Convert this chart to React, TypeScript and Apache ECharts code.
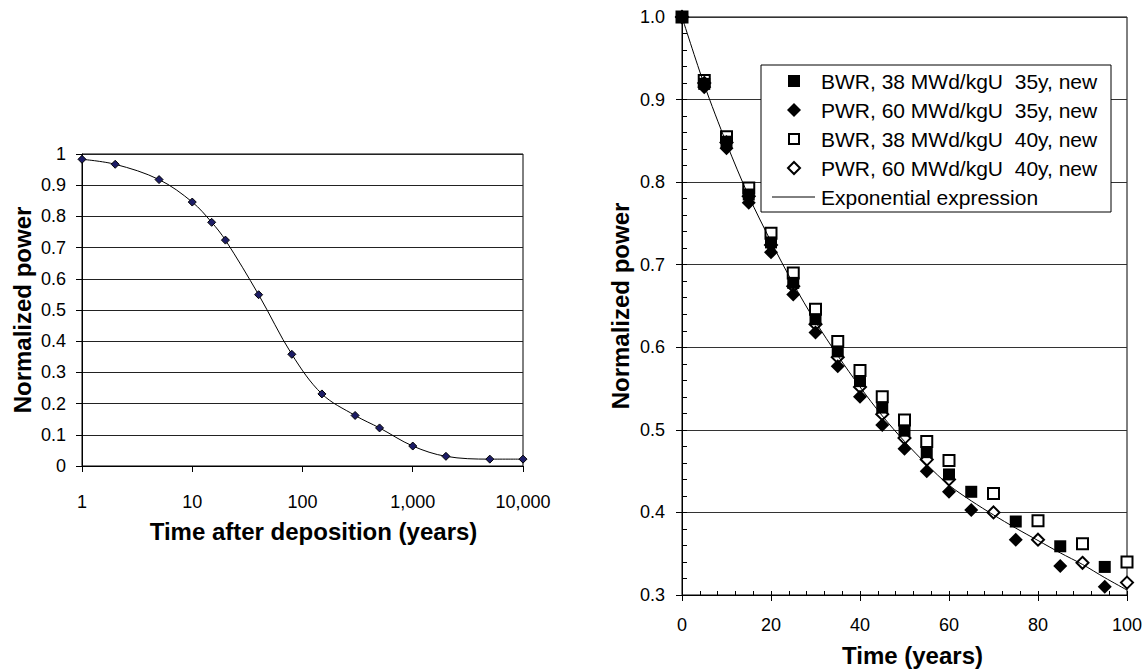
import React, { useEffect, useRef } from "react";
import * as echarts from "echarts";

// Left panel: decay heat vs. time after deposition (log time axis)
const decayYears = [1, 2, 5, 10, 15, 20, 40, 80, 150, 300, 500, 1000, 2000, 5000, 10000];
const decayPower = [0.983, 0.967, 0.918, 0.846, 0.781, 0.724, 0.549, 0.358, 0.231, 0.162, 0.122, 0.064, 0.031, 0.022, 0.022];

// Right panel: normalized power of spent fuel over the first 100 years
const years35 = [0, 5, 10, 15, 20, 25, 30, 35, 40, 45, 50, 55, 60, 65, 75, 85, 95];
const bwr35 = [1.0, 0.919, 0.849, 0.785, 0.727, 0.678, 0.634, 0.595, 0.559, 0.527, 0.499, 0.473, 0.446, 0.425, 0.389, 0.359, 0.334];
const pwr35 = [1.0, 0.915, 0.841, 0.775, 0.715, 0.664, 0.618, 0.577, 0.54, 0.506, 0.477, 0.45, 0.425, 0.403, 0.367, 0.335, 0.31];

const years40 = [0, 5, 10, 15, 20, 25, 30, 35, 40, 45, 50, 55, 60, 70, 80, 90, 100];
const bwr40 = [1.0, 0.923, 0.855, 0.793, 0.738, 0.69, 0.646, 0.607, 0.572, 0.54, 0.512, 0.486, 0.463, 0.423, 0.39, 0.362, 0.34];
const pwr40 = [1.0, 0.92, 0.848, 0.783, 0.724, 0.674, 0.628, 0.588, 0.552, 0.519, 0.49, 0.464, 0.44, 0.4, 0.367, 0.339, 0.315];

const fitYears = [0, 5, 10, 15, 20, 25, 30, 35, 40, 45, 50, 55, 60, 65, 70, 75, 80, 85, 90, 95, 100];
const fitPower = [1.0, 0.918, 0.847, 0.783, 0.728, 0.677, 0.631, 0.59, 0.552, 0.517, 0.486, 0.458, 0.433, 0.414, 0.397, 0.381, 0.366, 0.351, 0.337, 0.321, 0.306];

const legendLabels = [
  "BWR, 38 MWd/kgU \u00a035y, new",
  "PWR, 60 MWd/kgU \u00a035y, new",
  "BWR, 38 MWd/kgU \u00a040y, new",
  "PWR, 60 MWd/kgU \u00a040y, new",
  "Exponential expression",
];

const FONT = 'Arial, "Liberation Sans", sans-serif';

const zip = (xs: number[], ys: number[]) => xs.map((x, i) => [x, ys[i]]);

// Boxed legend drawn inside the right-hand plot
function legendGraphic() {
  const left = 761;
  const top = 65;
  const rowY = [81, 110, 139, 168, 197];
  const sx = 794;
  const tx = 821;
  const els: any[] = [
    {
      type: "rect",
      shape: { x: left, y: top, width: 350, height: 147 },
      style: { fill: "#fff", stroke: "#000", lineWidth: 1 },
      z: 10,
    },
  ];
  els.push({ type: "rect", shape: { x: sx - 6, y: rowY[0] - 6, width: 12, height: 12 }, style: { fill: "#000" }, z: 11 });
  els.push({
    type: "polygon",
    shape: { points: [[sx, rowY[1] - 7], [sx + 7, rowY[1]], [sx, rowY[1] + 7], [sx - 7, rowY[1]]] },
    style: { fill: "#000" },
    z: 11,
  });
  els.push({
    type: "rect",
    shape: { x: sx - 5, y: rowY[2] - 5, width: 10, height: 10 },
    style: { fill: "#fff", stroke: "#000", lineWidth: 2 },
    z: 11,
  });
  els.push({
    type: "polygon",
    shape: { points: [[sx, rowY[3] - 6], [sx + 6, rowY[3]], [sx, rowY[3] + 6], [sx - 6, rowY[3]]] },
    style: { fill: "#fff", stroke: "#000", lineWidth: 2 },
    z: 11,
  });
  els.push({
    type: "line",
    shape: { x1: 772, y1: rowY[4], x2: 815, y2: rowY[4] },
    style: { stroke: "#000", lineWidth: 1 },
    z: 11,
  });
  legendLabels.forEach((t, i) => {
    els.push({
      type: "text",
      x: tx,
      y: rowY[i],
      style: { text: t, font: `21px ${FONT}`, fill: "#000", verticalAlign: "middle", align: "left" },
      z: 11,
    });
  });
  return els;
}

export default function App() {
  const ref = useRef<HTMLDivElement>(null);

  useEffect(() => {
    if (!ref.current) return;
    const chart = echarts.init(ref.current, null, { renderer: "svg" });

    const labelStyle = { color: "#000", fontSize: 18, fontFamily: FONT };
    const nameStyle = { color: "#000", fontSize: 24, fontWeight: "bold" as const, fontFamily: FONT };

    chart.setOption({
      animation: false,
      backgroundColor: "#fff",
      grid: [
        { left: 82, top: 154, width: 441, height: 312, show: true, borderColor: "#000", borderWidth: 1 },
        { left: 682, top: 17, width: 445, height: 579, show: true, borderColor: "#000", borderWidth: 1 },
      ],
      xAxis: [
        {
          gridIndex: 0,
          type: "log",
          logBase: 10,
          min: 1,
          max: 10000,
          splitNumber: 4,
          name: "Time after deposition (years)",
          nameLocation: "middle",
          nameGap: 53,
          nameTextStyle: { ...nameStyle, padding: [0, 0, 0, 22] },
          axisLine: { onZero: false, lineStyle: { color: "#000", width: 1 } },
          axisTick: { show: true, length: 6, lineStyle: { color: "#000" } },
          axisLabel: {
            ...labelStyle,
            margin: 27,
            formatter: (v: number) => Number(v).toLocaleString("en-US"),
          },
          splitLine: { show: false },
          minorTick: { show: false },
          minorSplitLine: { show: false },
        },
        {
          gridIndex: 1,
          type: "value",
          min: 0,
          max: 100,
          interval: 20,
          position: "bottom",
          name: "Time (years)",
          nameLocation: "middle",
          nameGap: 48,
          nameTextStyle: { ...nameStyle, padding: [0, 0, 0, 16] },
          axisLine: { onZero: false, lineStyle: { color: "#000", width: 1 } },
          axisTick: { show: true, length: 6, lineStyle: { color: "#000" } },
          axisLabel: { ...labelStyle, margin: 21 },
          splitLine: { show: false },
        },
        {
          // minor ticks on the time axis, pointing into the plot
          gridIndex: 1,
          type: "value",
          min: 0,
          max: 100,
          interval: 4,
          position: "bottom",
          axisLine: { show: false, onZero: false },
          axisTick: { show: true, inside: true, length: 4, lineStyle: { color: "#000" } },
          axisLabel: { show: false },
          splitLine: { show: false },
        },
      ],
      yAxis: [
        {
          gridIndex: 0,
          type: "value",
          min: 0,
          max: 1,
          interval: 0.1,
          name: "Normalized power",
          nameLocation: "middle",
          nameGap: 48,
          nameTextStyle: nameStyle,
          axisLine: { show: true, lineStyle: { color: "#000", width: 1 } },
          axisTick: { show: true, length: 6, lineStyle: { color: "#000" } },
          axisLabel: { ...labelStyle, margin: 16 },
          splitLine: { show: true, lineStyle: { color: "#222", width: 1 } },
        },
        {
          gridIndex: 1,
          type: "value",
          min: 0.3,
          max: 1.0,
          interval: 0.1,
          position: "left",
          name: "Normalized power",
          nameLocation: "middle",
          nameGap: 50,
          nameTextStyle: nameStyle,
          axisLine: { show: true, lineStyle: { color: "#000", width: 1 } },
          axisTick: { show: true, length: 6, lineStyle: { color: "#000" } },
          axisLabel: { ...labelStyle, margin: 17, formatter: (v: number) => v.toFixed(1) },
          splitLine: { show: true, lineStyle: { color: "#333", width: 1 } },
        },
        {
          // minor ticks on the power axis, pointing into the plot
          gridIndex: 1,
          type: "value",
          min: 0.3,
          max: 1.0,
          interval: 0.02,
          position: "left",
          axisLine: { show: false },
          axisTick: { show: true, inside: true, length: 5, lineStyle: { color: "#000" } },
          axisLabel: { show: false },
          splitLine: { show: false },
        },
      ],
      series: [
        {
          name: "Decay",
          type: "line",
          xAxisIndex: 0,
          yAxisIndex: 0,
          data: zip(decayYears, decayPower),
          smooth: 0.35,
          symbol: "diamond",
          symbolSize: 8,
          lineStyle: { color: "#000", width: 1 },
          itemStyle: { color: "#1c1c66", borderColor: "#000", borderWidth: 1 },
        },
        {
          name: legendLabels[2],
          type: "scatter",
          xAxisIndex: 1,
          yAxisIndex: 1,
          data: zip(years40, bwr40),
          symbol: "rect",
          symbolSize: 11,
          itemStyle: { color: "#fff", borderColor: "#000", borderWidth: 2, opacity: 1 },
        },
        {
          name: legendLabels[3],
          type: "scatter",
          xAxisIndex: 1,
          yAxisIndex: 1,
          data: zip(years40, pwr40),
          symbol: "diamond",
          symbolSize: 12,
          itemStyle: { color: "#fff", borderColor: "#000", borderWidth: 2, opacity: 1 },
        },
        {
          name: legendLabels[0],
          type: "scatter",
          xAxisIndex: 1,
          yAxisIndex: 1,
          data: zip(years35, bwr35),
          symbol: "rect",
          symbolSize: 12,
          itemStyle: { color: "#000", opacity: 1 },
        },
        {
          name: legendLabels[1],
          type: "scatter",
          xAxisIndex: 1,
          yAxisIndex: 1,
          data: zip(years35, pwr35),
          symbol: "diamond",
          symbolSize: 14,
          itemStyle: { color: "#000", opacity: 1 },
        },
        {
          name: legendLabels[4],
          type: "line",
          xAxisIndex: 1,
          yAxisIndex: 1,
          data: zip(fitYears, fitPower),
          smooth: 0.3,
          symbol: "none",
          lineStyle: { color: "#000", width: 1 },
          z: 5,
        },
      ],
      graphic: legendGraphic(),
    });

    return () => chart.dispose();
  }, []);

  return (
    <div
      ref={ref}
      style={{ position: "fixed", left: 0, top: 0, width: 1146, height: 672, background: "#fff" }}
    />
  );
}
